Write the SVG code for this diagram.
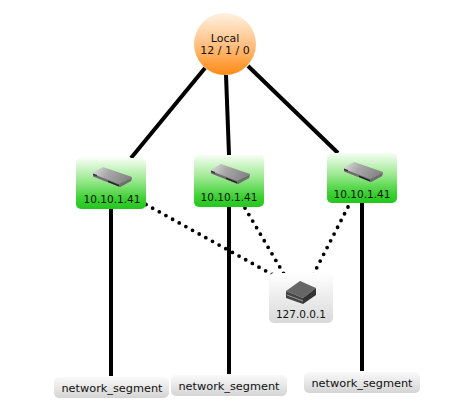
<svg xmlns="http://www.w3.org/2000/svg" width="475" height="420" viewBox="0 0 475 420">
<style>
text{font-family:"DejaVu Sans",sans-serif;font-size:10.5px;fill:#111;text-anchor:middle}
.big{font-size:11.3px}
.loc{font-size:11px}
.solid{stroke:#000;stroke-width:4;fill:none}
.dot{stroke:#000;stroke-width:3.8;fill:none;stroke-linecap:round;stroke-dasharray:0 7.6}
.green{fill:url(#g)}
.seg{fill:url(#s)}
</style>
<defs>
<linearGradient id="g" x1="0" y1="0" x2="0" y2="1"><stop offset="0" stop-color="#f6fef4"/><stop offset=".45" stop-color="#98e88c"/><stop offset=".8" stop-color="#3dd034"/><stop offset="1" stop-color="#22c71c"/></linearGradient>
<linearGradient id="o" x1="0" y1="0" x2="0" y2="1"><stop offset="0" stop-color="#fff2e2"/><stop offset=".5" stop-color="#ffc184"/><stop offset="1" stop-color="#ff8a14"/></linearGradient>
<linearGradient id="s" x1="0" y1="0" x2="0" y2="1"><stop offset="0" stop-color="#fafafa"/><stop offset="1" stop-color="#d4d4d4"/></linearGradient>
<linearGradient id="w" x1="0" y1="0" x2="0" y2="1"><stop offset="0" stop-color="#fff"/><stop offset="1" stop-color="#d9d9d9"/></linearGradient>
<linearGradient id="m" x1="0" y1="0" x2="1" y2="0.3"><stop offset="0" stop-color="#e2e2e2"/><stop offset=".45" stop-color="#a8a8a8"/><stop offset="1" stop-color="#858585"/></linearGradient>
<g id="router">
<path d="M0 6 L11 0 L40 10 L39 14 L28 20 L1 9.500 Z" fill="url(#m)"/>
<path d="M1 7 L27 17 L40 11 L39 14 L28 20 L1 9.500 Z" fill="#6e6e6e"/>
<path d="M16 13.500 L27 18 L27 19.500 L16 15 Z" fill="#222"/>
<path d="M1 6.500 L5 8 L5 9.500 L1 8 Z" fill="#333"/>
</g>
</defs>
<g id="connectors">
<path class="solid" d="M205 68 L131 158"/>
<path class="solid" d="M226 75 L229 155"/>
<path class="solid" d="M248 66 L338 153"/>
<path class="solid" d="M111 209 L111 376"/>
<path class="solid" d="M229 207 L229 374"/>
<path class="solid" d="M362 203 L362 371"/>
<path class="dot" d="M146 204.500 L284 281"/>
<path class="dot" d="M245 208 L288 281"/>
<path class="dot" d="M348 207 L313 275"/>
</g>
<g id="local">
<circle cx="225" cy="44" r="31" fill="url(#o)"/>
<text class="loc" x="225" y="42">Local</text>
<text class="loc" x="225" y="54">12 / 1 / 0</text>
</g>
<g id="node1">
<rect class="green" x="76" y="158" width="70" height="51" rx="5"/>
<use href="#router" x="92" y="167"/>
<text x="112" y="203">10.10.1.41</text>
</g>
<g id="node2">
<rect class="green" x="194" y="155" width="70" height="52" rx="5"/>
<use href="#router" x="210" y="164"/>
<text x="229" y="201">10.10.1.41</text>
</g>
<g id="node3">
<rect class="green" x="327" y="153" width="70" height="50" rx="5"/>
<use href="#router" x="343" y="162"/>
<text x="362" y="198">10.10.1.41</text>
</g>
<g id="server">
<rect x="269" y="273" width="64" height="50" rx="5" fill="url(#w)"/>
<path d="M286 291 L300 281 L316 288 L303 298 Z" fill="#666"/>
<path d="M286 291 L303 298 L303 304 L286 298 Z" fill="#444"/>
<path d="M303 298 L316 288 L316 295 L303 304 Z" fill="#333"/>
<path d="M287 295 L303 301" stroke="#999" stroke-width="1" fill="none"/>
<text x="301" y="318">127.0.0.1</text>
</g>
<g id="segment1">
<rect class="seg" x="54" y="377" width="115" height="21" rx="5"/>
<text class="big" x="112" y="392">network_segment</text>
</g>
<g id="segment2">
<rect class="seg" x="171" y="375" width="116" height="21" rx="5"/>
<text class="big" x="229" y="390">network_segment</text>
</g>
<g id="segment3">
<rect class="seg" x="304" y="372" width="116" height="21" rx="5"/>
<text class="big" x="362" y="387">network_segment</text>
</g>
</svg>
